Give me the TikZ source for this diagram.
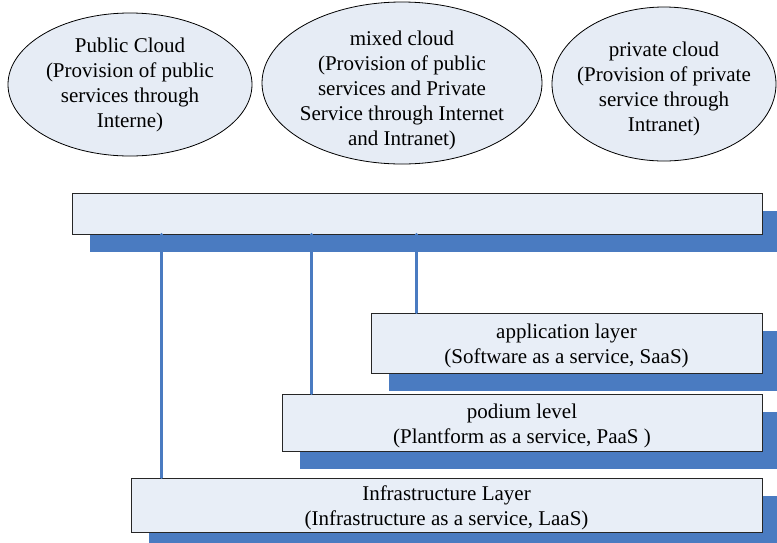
\documentclass[tikz,border=0pt]{standalone}
\usepackage{fontspec}
\setmainfont{Liberation Serif}
\usetikzlibrary{shapes.geometric, shadows}
\definecolor{layerfill}{HTML}{E8EEF7}
\definecolor{cloudfill}{HTML}{E6ECF5}
\definecolor{layerblue}{HTML}{4A7BC1}
\tikzset{
    every node/.style = {font=\fontsize{21}{25}\selectfont, align=center},
    cloudbox/.style = {ellipse, draw=black, line width=0.8pt, fill=cloudfill, inner sep=0pt},
    layerbox/.style = {rectangle, draw=black!85, line width=0.8pt, fill=layerfill, inner sep=0pt,
        drop shadow={shadow xshift=18pt, shadow yshift=-18pt, opacity=1, fill=layerblue}},
    link/.style = {draw=layerblue, line width=3pt, line cap=round}
}

\begin{document}
\begin{tikzpicture}[x=1pt, y=-1pt]
    \clip (0,0) rectangle (777,542);

    \node[cloudbox, minimum width=244pt, minimum height=143pt] (public) at (130,84.5) {};
    \node at (public.center) {Public Cloud\\(Provision of public\\services through\\Interne)};
    \node[cloudbox, minimum width=280pt, minimum height=162pt] (mixed) at (402,83) {};
    \node at ([yshift=-7pt]mixed.center) {mixed cloud\\(Provision of public\\services and Private\\Service through Internet\\and Intranet)};
    \node[cloudbox, minimum width=224pt, minimum height=154pt] (private) at (664,84) {};
    \node at ([yshift=-5pt]private.center) {private cloud\\(Provision of private\\service through\\Intranet)};

    \node[layerbox, minimum width=690pt, minimum height=41pt] (access) at (417,213.5) {};
    \node[layerbox, minimum width=391pt, minimum height=60pt] (saas) at (566.5,343) {};
    \node at ([yshift=-2.5pt]saas.center) {application layer\\(Software as a service, SaaS)};
    \node[layerbox, minimum width=480pt, minimum height=57pt] (paas) at (522,422.5) {};
    \node at ([yshift=-3pt]paas.center) {podium level\\(Plantform as a service, PaaS )};
    \node[layerbox, minimum width=631pt, minimum height=54pt] (iaas) at (446.5,505) {};
    \node at ([yshift=-2.5pt]iaas.center) {Infrastructure Layer\\(Infrastructure as a service, LaaS)};

    \draw[link] ([xshift=31pt]iaas.north west) -- ([xshift=31pt]iaas.north west |- access.south);
    \draw[link] ([xshift=30pt]paas.north west) -- ([xshift=30pt]paas.north west |- access.south);
    \draw[link] ([xshift=46pt]saas.north west) -- ([xshift=46pt]saas.north west |- access.south);
\end{tikzpicture}
\end{document}
